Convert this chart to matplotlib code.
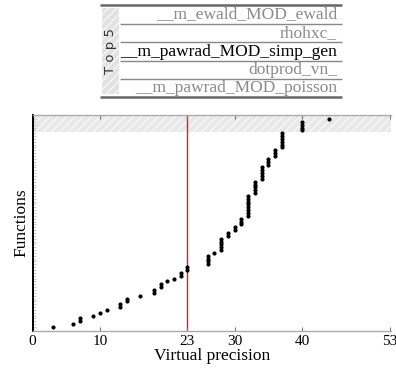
import numpy as np
import matplotlib
matplotlib.use("Agg")
import matplotlib.pyplot as plt

# ---- data ----
precisions = [3, 6, 7, 9, 10, 11, 13, 14, 16, 18, 19, 20, 21, 22, 23,
              26, 27, 28, 29, 30, 31, 32, 33, 34, 35, 36, 37, 40, 44]
counts = [1, 1, 2, 1, 1, 1, 2, 2, 1, 2, 2, 1, 1, 2, 2,
          4, 1, 5, 2, 2, 3, 8, 5, 5, 3, 3, 6, 4, 1]
threshold = 23
xticks = [0, 10, 23, 30, 40, 53]
top_names = ["__m_ewald_MOD_ewald", "rhohxc_", "__m_pawrad_MOD_simp_gen",
             "dotprod_vn_", "__m_pawrad_MOD_poisson"]
top_highlight = [False, False, True, False, False]
n_top = 5

func_prec = np.repeat(precisions, counts)
ranks = np.arange(len(func_prec))
N = len(func_prec)

W, H = 396, 369
fig = plt.figure(figsize=(W / 100, H / 100), dpi=100)
serif = "Liberation Serif"

# ---- main axes ----
ax = fig.add_axes([32.5 / W, 1 - 330.7 / H, (391 - 32.5) / W, (330.7 - 115.3) / H])
ax.set_xlim(0, 53.2)
ax.set_ylim(-1.3, N + 0.3)
ax.axhspan(N - n_top - 0.5, N + 0.3, facecolor="#e8e8e8", edgecolor="#f7f7f7",
           hatch="////", linewidth=0, zorder=0)
ax.axvline(threshold, color="#e41a1c", lw=1.0, zorder=1)
ax.plot(func_prec, ranks, "o", color="black", markersize=3.0, markeredgewidth=0, zorder=3)

ax.set_xticks(xticks)
ax.set_xticklabels([str(t) for t in xticks], fontfamily=serif, fontsize=11)
ax.set_yticks(ranks)
ax.set_yticklabels([])
ax.tick_params(axis="x", direction="in", top=True, length=3, color="#777", pad=3)
ax.tick_params(axis="y", direction="in", length=2, color="#c4c4c4", width=0.6, pad=0)
for s in ["top", "bottom"]:
    ax.spines[s].set_color("#aaaaaa")
    ax.spines[s].set_linewidth(1.0)
ax.spines["left"].set_color("black")
ax.spines["left"].set_linewidth(1.4)
ax.spines["right"].set_visible(False)
ax.set_xlabel("Virtual precision", fontfamily=serif, fontsize=12.5, labelpad=0)
ax.set_ylabel("Functions", fontfamily=serif, fontsize=12.5, labelpad=2)

# ---- top-5 table ----
tx0, tx1, ty0, ty1 = 99, 343, 2, 100
tab = fig.add_axes([tx0 / W, 1 - ty1 / H, (tx1 - tx0) / W, (ty1 - ty0) / H])
tab.set_xlim(tx0, tx1)
tab.set_ylim(ty1, ty0)
tab.axis("off")
line_y = [5, 24, 42.5, 61, 79.5, 97]
tab.plot([100, 342], [line_y[0]] * 2, color="#666", lw=1.8, solid_capstyle="butt")
tab.plot([100, 342], [line_y[-1]] * 2, color="#666", lw=1.8, solid_capstyle="butt")
for yy in line_y[1:-1]:
    tab.plot([120, 342], [yy, yy], color="#888", lw=1.0, solid_capstyle="butt")
tab.fill_between([102, 119], 8, 94, facecolor="#e2e2e2", edgecolor="#f6f6f6",
                 hatch="////", linewidth=0)
tab.text(110.5, 51, "T o p 5", rotation=90, ha="center", va="center",
         fontsize=9.5, color="#333", family="DejaVu Sans")
for i, (name, hl) in enumerate(zip(top_names, top_highlight)):
    yc = (line_y[i] + line_y[i + 1]) / 2
    tab.text(337, yc, name, ha="right", va="center", fontfamily=serif,
             fontsize=12.5, color="black" if hl else "#8a8a8a")

fig.savefig("out.png", dpi=100)
